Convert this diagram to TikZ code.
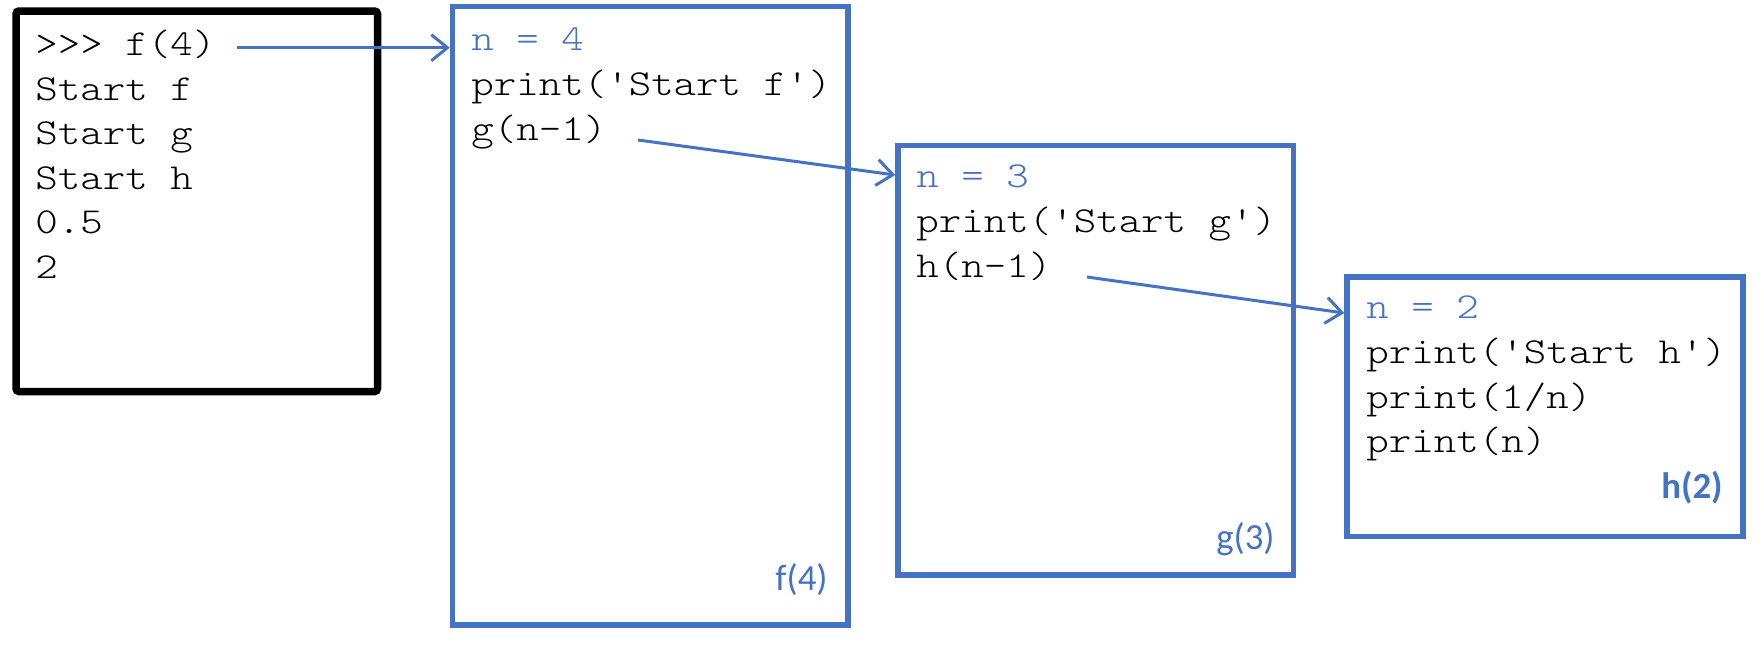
\documentclass[tikz,border=0pt]{standalone}
\usepackage{fontspec}
\newfontfamily\codefont{Latin Modern Mono Light}[FakeStretch=1.17]
\newfontfamily\labelfont{Carlito}
\usetikzlibrary{arrows.meta}
\definecolor{frameblue}{HTML}{4472C4}
\begin{document}
\begin{tikzpicture}[x=0.5pt,y=-0.5pt,
  codeline/.style={anchor=base west,inner sep=0pt,font=\fontsize{18.3}{22}\selectfont\codefont},
  varline/.style={codeline,text=frameblue},
  frame/.style={draw=frameblue,line width=2.75pt,minimum width=#1,inner sep=0pt},
  shellframe/.style={draw=black,line width=3.75pt,rounded corners=1.5pt,inner sep=0pt},
  calllabel/.style={anchor=base east,inner sep=0pt,text=frameblue,font=\fontsize{18.4}{22}\selectfont\labelfont},
  callarrow/.style={draw=frameblue,line width=1.5pt,-{Straight Barb[length=8pt,width=13pt,line width=1.5pt]}}]
\useasboundingbox (0,0) rectangle (1764,671);

% interactive shell
\node[shellframe,minimum width=180.75pt,minimum height=190.25pt] (shell) at (196.75,201.25) {};
\node[codeline] (sh1) at (35,55.5) {>{}>{}> f(4)};
\node[codeline] (sh2) at (35,100) {Start f};
\node[codeline] (sh3) at (35,144.5) {Start g};
\node[codeline] (sh4) at (35,189) {Start h};
\node[codeline] (sh5) at (35,233.5) {0.5};
\node[codeline] (sh6) at (35,278) {2};

% frame of f(4)
\node[frame=197.75pt,minimum height=309.15pt] (fbox) at (650.25,315.85) {};
\node[varline] (f1) at (471,50) {n = 4};
\node[codeline] (f2) at (471,95) {print('Start f')};
\node[codeline] (f3) at (471,140) {g(n-1)};
\node[calllabel] (flabel) at (828,590) {f(4)};

% frame of g(3)
\node[frame=197.75pt,minimum height=214.75pt] (gbox) at (1095.75,360.25) {};
\node[varline] (g1) at (916,187) {n = 3};
\node[codeline] (g2) at (916,232) {print('Start g')};
\node[codeline] (g3) at (916,277) {h(n-1)};
\node[calllabel] (glabel) at (1275,549) {g(3)};

% frame of h(2)
\node[frame=198pt,minimum height=129.75pt] (hbox) at (1545,406.75) {};
\node[varline] (h1) at (1366,318) {n = 2};
\node[codeline] (h2) at (1366,363) {print('Start h')};
\node[codeline] (h3) at (1366,408) {print(1/n)};
\node[codeline] (h4) at (1366,452.5) {print(n)};
\node[calllabel,font=\fontsize{18.4}{22}\selectfont\labelfont\bfseries] (hlabel) at (1723,498) {h(2)};

% calls
\coordinate (c1) at (237,47.7);
\coordinate (c2) at (638,140);
\coordinate (c3) at (1087,277);
\draw[callarrow] (c1) -- (fbox.west |- c1);
\draw[callarrow] (c2) -- (gbox.west |- 0,175);
\draw[callarrow] (c3) -- (hbox.west |- 0,313);
\end{tikzpicture}
\end{document}
